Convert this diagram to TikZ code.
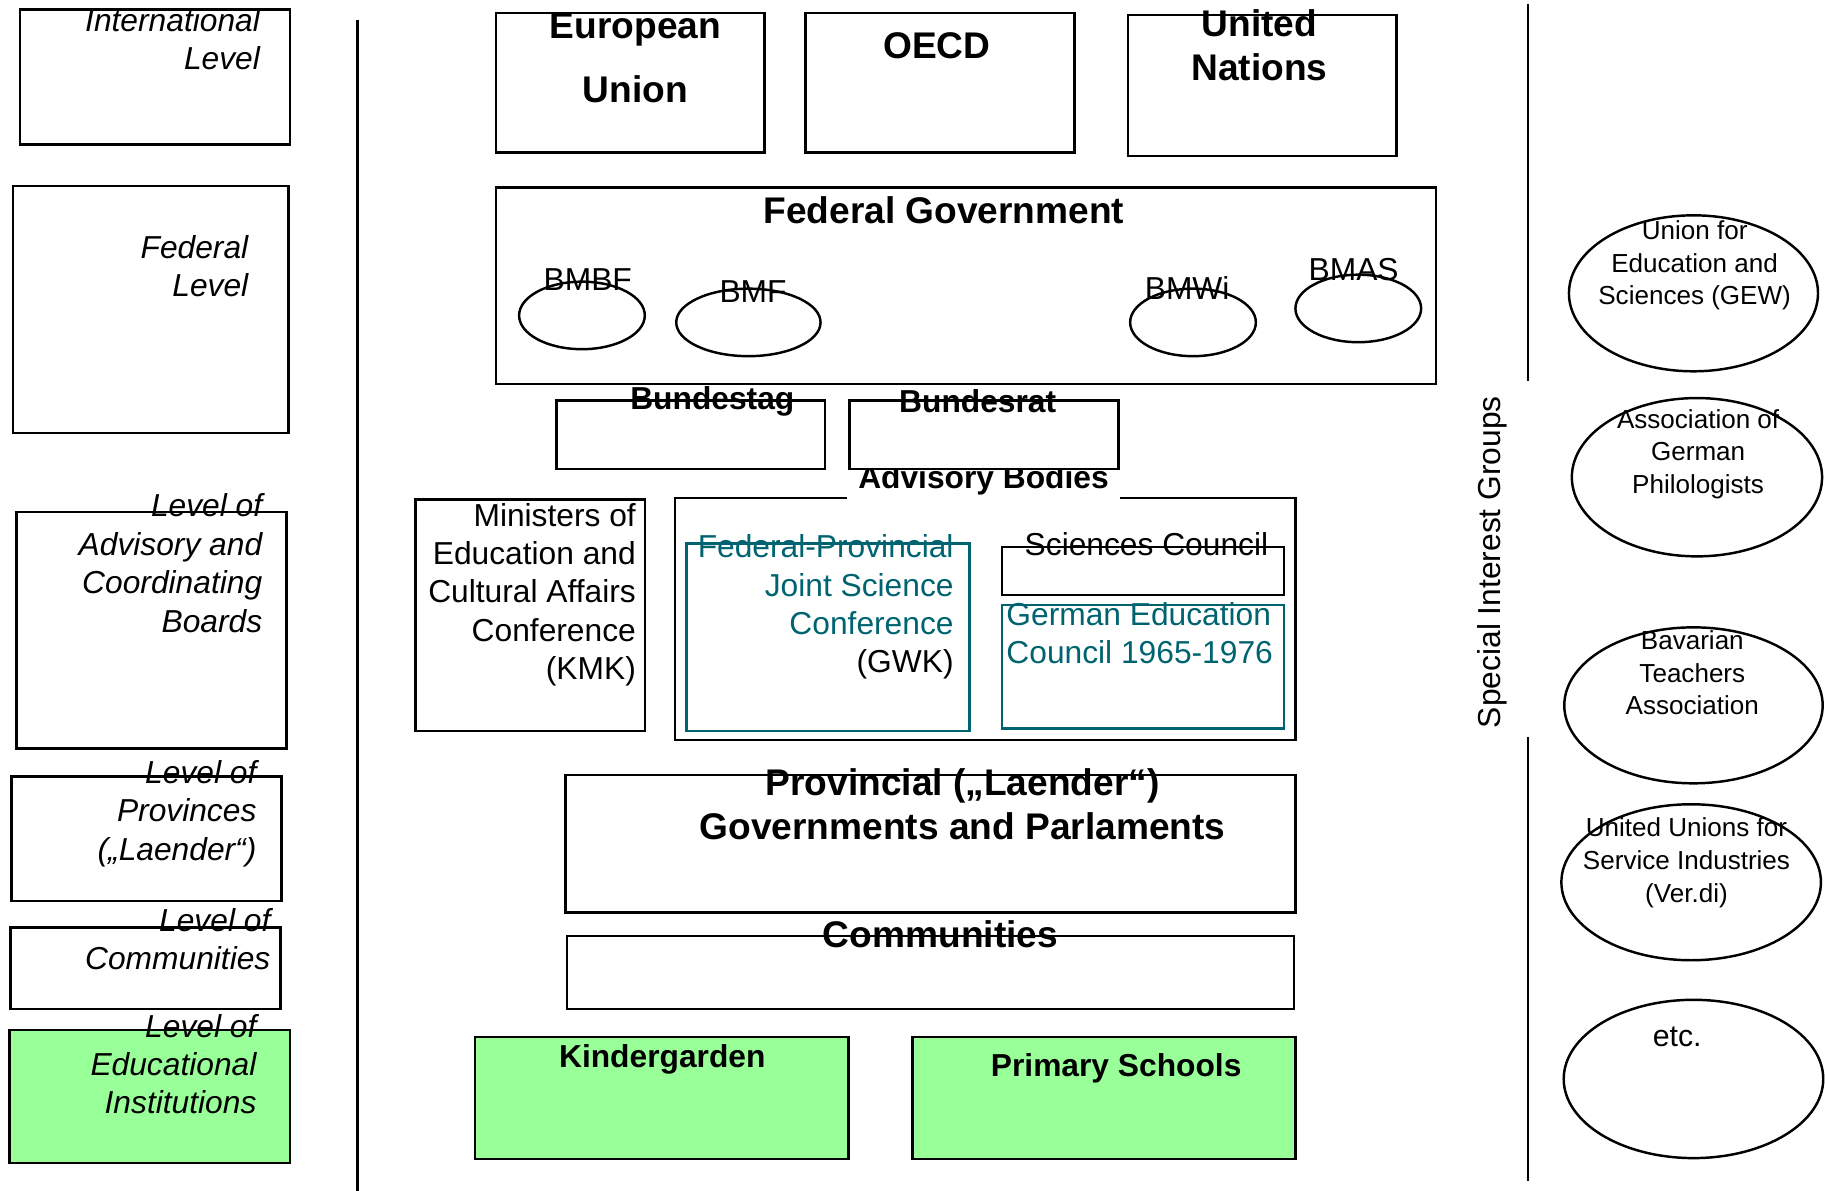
\documentclass[tikz,border=0pt]{standalone}
\usepackage{fontspec}
\setmainfont{Liberation Sans}
\usetikzlibrary{fit}
\usetikzlibrary{shapes.geometric}

\definecolor{gwkteal}{RGB}{0,100,112}
\definecolor{instgreen}{RGB}{153,255,153}
\newcommand{\levelfont}{\fontsize{7.76}{9.38}\selectfont\itshape}
\newcommand{\bigbold}{\fontsize{9.07}{10.8}\selectfont\bfseries}
\newcommand{\smallbold}{\fontsize{7.76}{9.38}\selectfont\bfseries}
\newcommand{\plainfont}{\fontsize{7.76}{9.38}\selectfont}
\newcommand{\groupfont}{\fontsize{6.37}{7.97}\selectfont}

\begin{document}
\begin{tikzpicture}[x=0.1mm, y=-0.1mm,
                box/.style={draw, line width=0.6pt, inner sep=0pt},
                oval/.style={draw, ellipse, line width=0.6pt, inner sep=0pt},
                lbl/.style={inner sep=0pt, anchor=base}]
        \useasboundingbox (0,0) rectangle (1568,1023);
        \draw[line width=0.6pt] (307,17) -- (307,1023);
        \draw[line width=0.6pt] (1313,3) -- (1313,327);
        \draw[line width=0.6pt] (1313,633) -- (1313,1015);
        \foreach \name/\xa/\ya/\xb/\yb/\fc in {intl/17/8/249/124/white, fedlvl/11/160/248/372/white,
                    advlvl/14/440/246/643/white, provlvl/10/667/242/774/white,
                    commlvl/9/797/241/867/white, edulvl/8/885/249/999/instgreen} {
                \node[box, fill=\fc, fit={(\xa,\ya) (\xb,\yb)}] (\name) {};
            }
        \node[lbl, anchor=base east, align=right, font=\levelfont] (intltext) at (224,60) {International\\Level};
        \node[lbl, anchor=base east, align=right, font=\levelfont] (fedlvltext) at (214,255) {Federal\\Level};
        \node[lbl, anchor=base east, align=right, font=\levelfont] (advlvltext) at (226,543) {Level of\\Advisory and\\Coordinating\\Boards};
        \node[lbl, anchor=base east, align=right, font=\levelfont] (provlvltext) at (221,739) {Level of\\Provinces\\(„Laender“)};
        \node[lbl, anchor=base east, align=right, font=\levelfont] (commlvltext) at (233,833) {Level of\\Communities};
        \node[lbl, anchor=base east, align=right, font=\levelfont] (edulvltext) at (221,957) {Level of\\Educational\\Institutions};

        \node[box, fit={(426,11) (657,131)}] (eu) {};
        \node[box, fit={(692,11) (923,131)}] (oecd) {};
        \node[box, fit={(969,13) (1200,134)}] (un) {};
        \node[lbl, align=center, font=\fontsize{9.07}{15.6}\selectfont\bfseries] (eutext) at (546,88) {European\\Union};
        \node[lbl, font=\bigbold] (oecdtext) at (805,50) {OECD};
        \node[lbl, align=center, font=\bigbold] (untext) at (1082,69) {United\\Nations};

        \node[box, fit={(426,161) (1234,330)}] (fedgov) {};
        \node[lbl, font=\bigbold] (fedgovtext) at (811,192) {Federal Government};
        \foreach \name/\cx/\cy/\w/\tx/\ty in {BMBF/500/271/10.8/505/250, BMF/643/277/12.4/647/260,
                    BMWi/1025/277/10.8/1020/257, BMAS/1167/265/10.8/1163/241} {
                \node[oval, minimum width=\w mm, minimum height=5.8mm] (\name) at (\cx,\cy) {};
                \node[lbl, font=\plainfont] (\name text) at (\tx,\ty) {\name};
            }

        \node[box, fit={(580,428) (1113,636)}] (adv) {};
        \node[lbl, fill=white, inner xsep=1mm, inner ysep=1mm, font=\smallbold] (advtext) at (845,420) {Advisory Bodies};
        \node[box, fill=white, fit={(478,344) (709,403)}] (btag) {};
        \node[box, fill=white, fit={(730,344) (961,403)}] (brat) {};
        \node[lbl, font=\smallbold] (btagtext) at (612,352) {Bundestag};
        \node[lbl, font=\smallbold] (brattext) at (840,354) {Bundesrat};

        \node[box, fit={(357,429) (554,628)}] (kmk) {};
        \node[lbl, anchor=base east, align=right, font=\plainfont] (kmktext) at (547,584) {Ministers of\\Education and\\Cultural Affairs\\Conference\\(KMK)};
        \node[box, draw=gwkteal, fit={(590,467) (833,628)}] (gwk) {};
        \node[lbl, anchor=base east, align=right, font=\plainfont] (gwktext) at (820,578) {\textcolor{gwkteal}{Federal-Provincial}\\\textcolor{gwkteal}{Joint Science}\\\textcolor{gwkteal}{Conference}\\(GWK)};
        \node[box, fit={(861,470) (1103,511)}] (wrat) {};
        \node[lbl, font=\plainfont] (wrattext) at (985,477) {Sciences Council};
        \node[box, draw=gwkteal, fit={(861,520) (1103,626)}] (dbr) {};
        \node[lbl, anchor=base west, align=left, font=\plainfont, text=gwkteal] (dbrtext) at (864,570) {German Education\\Council 1965-1976};

        \node[box, fit={(486,666) (1113,784)}] (prov) {};
        \node[lbl, align=center, font=\bigbold] (provtext) at (827,721) {Provincial („Laender“)\\Governments and Parlaments};
        \node[box, fit={(487,804) (1112,867)}] (comm) {};
        \node[lbl, font=\bigbold] (commtext) at (808,814) {Communities};
        \node[box, fill=instgreen, fit={(408,891) (729,996)}] (kita) {};
        \node[lbl, font=\smallbold] (kitatext) at (569,917) {Kindergarden};
        \node[box, fill=instgreen, fit={(784,891) (1113,996)}] (prim) {};
        \node[lbl, font=\smallbold] (primtext) at (959,925) {Primary Schools};

        \node[font=\plainfont, rotate=90, inner sep=0pt] (groups) at (1282,483) {Special Interest Groups};
        \foreach \name/\cx/\cy/\w/\h/\tx/\ty/\txt in {gew/1455/252/21.4/13.4/1456/262/{Union for\\Education and\\Sciences (GEW)},
                    phil/1458/410/21.5/13.6/1459/424/{Association of\\German\\Philologists},
                    bav/1455/606/22.2/13.4/1454/614/{Bavarian\\Teachers\\Association},
                    verdi/1453/758/22.3/13.4/1449/775/{United Unions for\\Service Industries\\(Ver.di)}} {
                \node[oval, minimum width=\w mm, minimum height=\h mm] (\name) at (\cx,\cy) {};
                \node[lbl, align=center, font=\groupfont] (\name text) at (\tx,\ty) {\txt};
            }
        \node[oval, minimum width=22.3mm, minimum height=13.6mm] (etc) at (1455,927) {};
        \node[lbl, font=\fontsize{7.4}{9}\selectfont] (etctext) at (1441,899) {etc.};
    \end{tikzpicture}
\end{document}
